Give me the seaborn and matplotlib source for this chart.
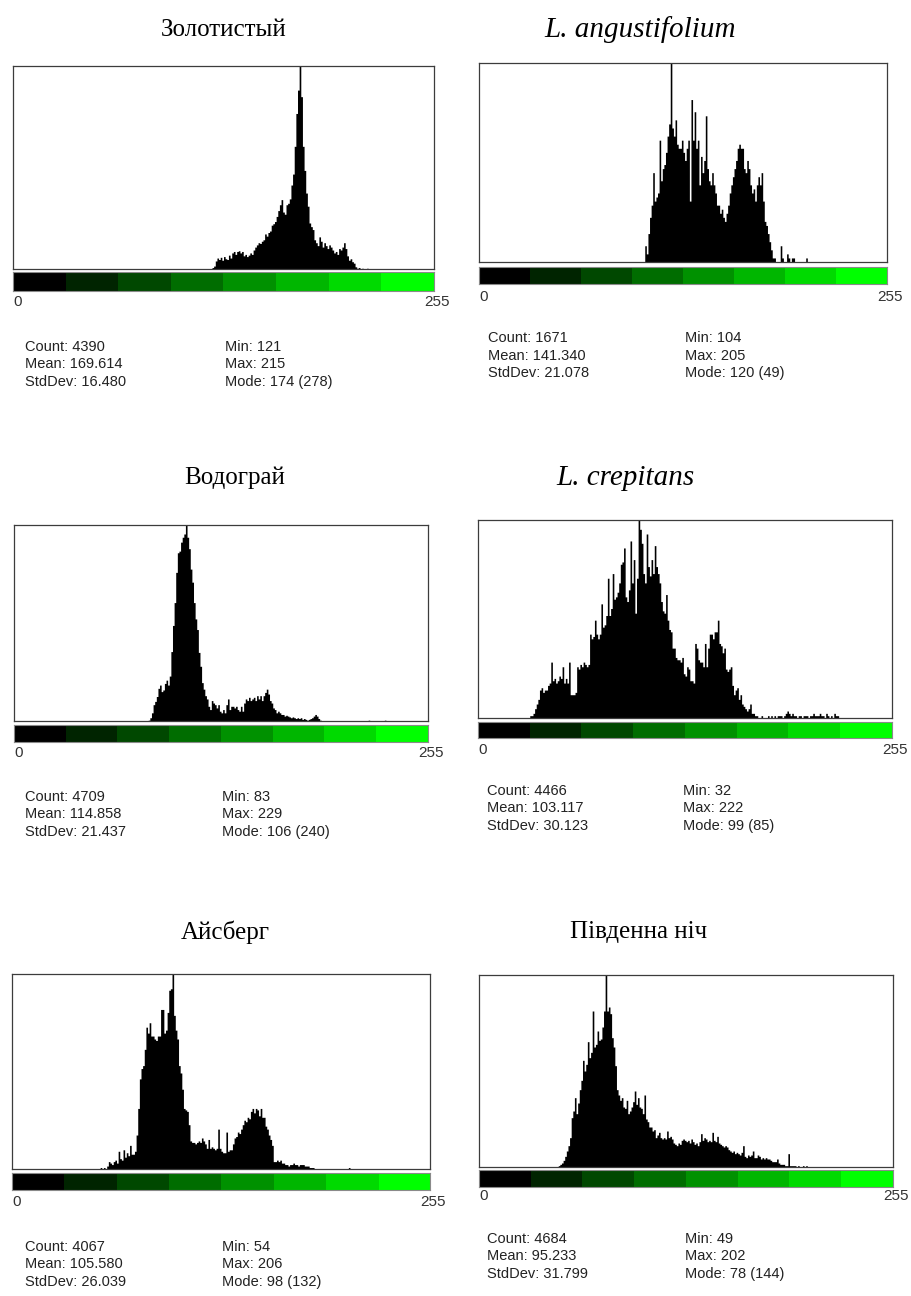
import numpy as np
import pandas as pd
import matplotlib
matplotlib.use("Agg")
import matplotlib.pyplot as plt
from matplotlib.colors import LinearSegmentedColormap
import seaborn as sns

# --- datos: histogramas de intensidad (0-255), un valor por nivel desde el mínimo ---
titles = ["Золотистый", "L. angustifolium", "Водограй", "L. crepitans", "Айсберг", "Південна ніч"]
italic_title = [False, True, False, True, False, False]

zolotystyi_start = 121
zolotystyi_counts = [
    2, 4, 11, 15, 13, 16, 12, 17, 14, 13,
    19, 15, 22, 24, 20, 24, 25, 22, 24, 18,
    20, 17, 19, 22, 20, 26, 30, 33, 36, 35,
    38, 40, 48, 45, 50, 52, 60, 62, 65, 72,
    80, 88, 95, 78, 75, 88, 90, 96, 115, 130,
    168, 213, 245, 278, 236, 168, 135, 104, 86, 63,
    58, 54, 40, 36, 32, 44, 38, 30, 36, 32,
    28, 33, 30, 26, 22, 24, 20, 28, 26, 30,
    36, 28, 18, 12, 14, 10, 8, 3, 1, 2,
    0, 1, 0, 0, 1]

angustifolium_start = 104
angustifolium_counts = [
    4, 2, 7, 11, 14, 22, 15, 16, 17, 30,
    20, 23, 24, 27, 31, 34, 49, 33, 31, 35,
    29, 28, 28, 30, 27, 25, 28, 30, 15, 40,
    30, 37, 28, 30, 19, 26, 22, 25, 36, 23,
    20, 19, 22, 19, 17, 14, 14, 12, 13, 11,
    10, 12, 14, 17, 19, 21, 23, 25, 28, 29,
    28, 28, 23, 22, 25, 23, 19, 17, 18, 15,
    19, 21, 19, 22, 15, 10, 9, 7, 5, 3,
    1, 1, 0, 0, 0, 4, 1, 0, 0, 2,
    1, 0, 1, 1, 0, 0, 0, 0, 0, 0,
    0, 1]

vodohrai_start = 83
vodohrai_counts = [
    1, 4, 10, 20, 24, 30, 40, 44, 36, 38,
    46, 50, 44, 55, 85, 117, 145, 182, 206, 208,
    219, 225, 229, 240, 225, 211, 186, 170, 145, 125,
    112, 84, 67, 47, 39, 31, 27, 18, 14, 25,
    22, 20, 16, 20, 12, 10, 14, 10, 20, 27,
    14, 18, 18, 16, 18, 14, 12, 18, 12, 22,
    27, 25, 29, 25, 27, 29, 25, 31, 27, 31,
    25, 31, 35, 39, 33, 25, 22, 16, 14, 10,
    12, 10, 8, 8, 6, 7, 6, 5, 4, 5,
    4, 3, 4, 3, 4, 2, 3, 2, 1, 2,
    3, 4, 6, 8, 6, 3, 1, 0, 0, 0,
    0, 0, 0, 0, 0, 0, 0, 0, 0, 0,
    0, 0, 0, 0, 0, 0, 0, 0, 0, 0,
    0, 0, 0, 0, 0, 0, 1, 0, 0, 0,
    0, 0, 0, 0, 0, 0, 1]

crepitans_start = 32
crepitans_counts = [
    1, 1, 2, 4, 6, 8, 12, 13, 11, 12,
    12, 14, 15, 24, 16, 17, 15, 16, 18, 17,
    22, 15, 17, 15, 24, 10, 10, 10, 11, 22,
    21, 23, 22, 24, 23, 22, 23, 36, 34, 35,
    42, 36, 34, 36, 49, 39, 40, 44, 60, 44,
    47, 62, 51, 52, 54, 58, 66, 67, 73, 52,
    50, 55, 76, 58, 68, 45, 60, 85, 81, 75,
    62, 58, 79, 65, 61, 68, 62, 74, 65, 62,
    58, 50, 46, 45, 53, 42, 38, 37, 30, 30,
    26, 25, 25, 24, 26, 19, 18, 22, 21, 16,
    16, 15, 32, 30, 25, 24, 24, 22, 32, 22,
    30, 36, 36, 34, 37, 37, 42, 32, 31, 28,
    30, 21, 20, 21, 22, 14, 10, 12, 13, 8,
    10, 6, 5, 4, 3, 4, 6, 2, 2, 1,
    1, 0, 0, 1, 0, 0, 0, 1, 0, 1,
    0, 1, 0, 1, 1, 1, 0, 1, 2, 3,
    2, 1, 2, 1, 1, 0, 1, 1, 0, 1,
    1, 1, 0, 1, 1, 2, 1, 1, 1, 2,
    1, 1, 0, 2, 1, 0, 1, 0, 2, 1,
    1]

aisberh_start = 54
aisberh_counts = [
    1, 0, 1, 0, 2, 5, 4, 3, 5, 6,
    4, 12, 7, 6, 13, 8, 11, 9, 16, 10,
    10, 12, 23, 41, 61, 68, 70, 81, 96, 92,
    99, 90, 90, 88, 87, 90, 90, 108, 108, 92,
    94, 106, 121, 122, 132, 104, 94, 88, 70, 65,
    54, 41, 40, 39, 30, 19, 18, 18, 17, 18,
    19, 18, 21, 19, 17, 14, 20, 14, 15, 14,
    13, 14, 27, 14, 12, 11, 11, 25, 12, 13,
    13, 17, 21, 22, 25, 24, 27, 30, 33, 32,
    35, 34, 39, 41, 38, 41, 40, 36, 41, 35,
    35, 29, 27, 23, 20, 16, 5, 5, 6, 5,
    6, 4, 4, 3, 3, 2, 3, 3, 4, 3,
    3, 2, 3, 3, 3, 2, 2, 2, 1, 1,
    1, 0, 0, 0, 0, 0, 0, 0, 0, 0,
    0, 0, 0, 0, 0, 0, 0, 0, 0, 0,
    0, 0, 1]

pivdenna_start = 49
pivdenna_counts = [
    1, 2, 3, 5, 8, 12, 16, 22, 37, 42,
    52, 40, 48, 58, 65, 80, 72, 77, 94, 82,
    86, 117, 90, 92, 102, 95, 96, 105, 117, 144,
    117, 120, 115, 97, 90, 76, 58, 54, 50, 52,
    45, 44, 50, 40, 42, 45, 49, 57, 47, 52,
    45, 44, 40, 54, 36, 34, 30, 30, 27, 28,
    22, 24, 26, 22, 21, 22, 21, 27, 22, 23,
    21, 18, 17, 16, 18, 17, 20, 21, 20, 19,
    20, 18, 21, 19, 17, 18, 16, 19, 25, 20,
    22, 21, 19, 20, 19, 26, 20, 19, 23, 18,
    17, 16, 15, 16, 15, 13, 12, 11, 12, 10,
    11, 10, 9, 11, 16, 8, 7, 9, 8, 9,
    12, 7, 7, 9, 8, 6, 7, 6, 7, 6,
    6, 5, 4, 4, 4, 6, 3, 2, 2, 2,
    1, 1, 10, 1, 1, 1, 1, 0, 1, 0,
    0, 1, 0, 1]

starts = [zolotystyi_start, angustifolium_start, vodohrai_start,
          crepitans_start, aisberh_start, pivdenna_start]
hist_counts = [zolotystyi_counts, angustifolium_counts, vodohrai_counts,
               crepitans_counts, aisberh_counts, pivdenna_counts]

# estadísticas tal como aparecen en el texto
stat_count = [4390, 1671, 4709, 4466, 4067, 4684]
stat_mean = ["169.614", "141.340", "114.858", "103.117", "105.580", "95.233"]
stat_std = ["16.480", "21.078", "21.437", "30.123", "26.039", "31.799"]
stat_min = [121, 104, 83, 32, 54, 49]
stat_max = [215, 205, 229, 222, 206, 202]
stat_mode = [174, 120, 106, 99, 98, 78]
stat_mode_count = [278, 49, 240, 85, 132, 144]

# --- geometría en píxeles (figura 911x1296) ---
W, H = 911, 1296
# (izq, der, arriba, abajo) del marco, (arriba, abajo) de la barra de color
frames = [(13, 434, 66, 269), (479, 887, 63, 262),
          (14, 428, 525, 721), (478, 892, 520, 718),
          (12, 430, 974, 1169), (479, 893, 975, 1167)]
cbars = [(272, 291), (267, 284), (725, 742), (722, 738), (1173, 1190), (1170, 1187)]
title_pos = [(224, 30), (640, 30), (235, 478), (625, 478), (225, 932), (639, 932)]
tick_y = [302, 297, 753, 750, 1202, 1196]
stats_y = [347, 338, 797, 791, 1247, 1239]
stats_x = [(25, 225), (488, 685), (25, 222), (487, 683), (25, 222), (487, 685)]


def rect(left, right, top, bottom):
    return [left / W, 1 - bottom / H, (right - left) / W, (bottom - top) / H]


def ftext(x, y, s, **kw):
    fig.text(x / W, 1 - y / H, s, **kw)


sns.set_style("white")
plt.rcParams['font.family'] = ['Liberation Sans', 'DejaVu Sans']

lut = LinearSegmentedColormap.from_list("lut_verde", ["#000000", "#00ff00"], N=8)
gradient = np.arange(256)[None, :]

fig = plt.figure(figsize=(W / 100, H / 100), dpi=100)

for i in range(6):
    fl, fr, ft, fb = frames[i]
    df = pd.DataFrame({
        "nivel": np.arange(starts[i], starts[i] + len(hist_counts[i])),
        "cuenta": hist_counts[i],
    })

    ax = fig.add_axes(rect(fl, fr, ft, fb))
    sns.histplot(data=df, x="nivel", weights="cuenta", binwidth=1, binrange=(0, 256),
                 element="step", fill=True, color="black", alpha=1,
                 linewidth=0, ax=ax)
    ax.set_xlim(0, 256)
    ax.set_ylim(0, stat_mode_count[i])
    ax.set_xticks([])
    ax.set_yticks([])
    ax.set_xlabel("")
    ax.set_ylabel("")
    for sp in ax.spines.values():
        sp.set_visible(True)
        sp.set_color("#3c3c3c")
        sp.set_linewidth(0.9)

    # barra de la LUT
    ct, cb = cbars[i]
    cax = fig.add_axes(rect(fl, fr, ct, cb))
    cax.imshow(gradient, aspect="auto", cmap=lut, extent=(0, 256, 0, 1),
               interpolation="nearest")
    cax.set_xticks([])
    cax.set_yticks([])
    for sp in cax.spines.values():
        sp.set_color("#8a8a8a")
        sp.set_linewidth(0.8)

    ftext(fl, tick_y[i], "0", ha="left", va="center", fontsize=11, color="#333333")
    ftext(fr + 16, tick_y[i], "255", ha="right", va="center", fontsize=11, color="#333333")

    # título (los latinos en cursiva, algo más grandes)
    tx, ty = title_pos[i]
    ftext(tx, ty, titles[i], ha="center", va="center",
          fontsize=21 if italic_title[i] else 18,
          family=["Liberation Serif", "DejaVu Serif"],
          style="italic" if italic_title[i] else "normal", color="black")

    # estadísticas
    sx1, sx2 = stats_x[i]
    sy = stats_y[i]
    left_lines = [f"Count: {stat_count[i]}", f"Mean: {stat_mean[i]}", f"StdDev: {stat_std[i]}"]
    right_lines = [f"Min: {stat_min[i]}", f"Max: {stat_max[i]}",
                   f"Mode: {stat_mode[i]} ({stat_mode_count[i]})"]
    for k in range(3):
        ftext(sx1, sy + 17.5 * k, left_lines[k], ha="left", va="center",
              fontsize=10.5, color="#222222")
        ftext(sx2, sy + 17.5 * k, right_lines[k], ha="left", va="center",
              fontsize=10.5, color="#222222")

fig.savefig("out.png", dpi=100)
